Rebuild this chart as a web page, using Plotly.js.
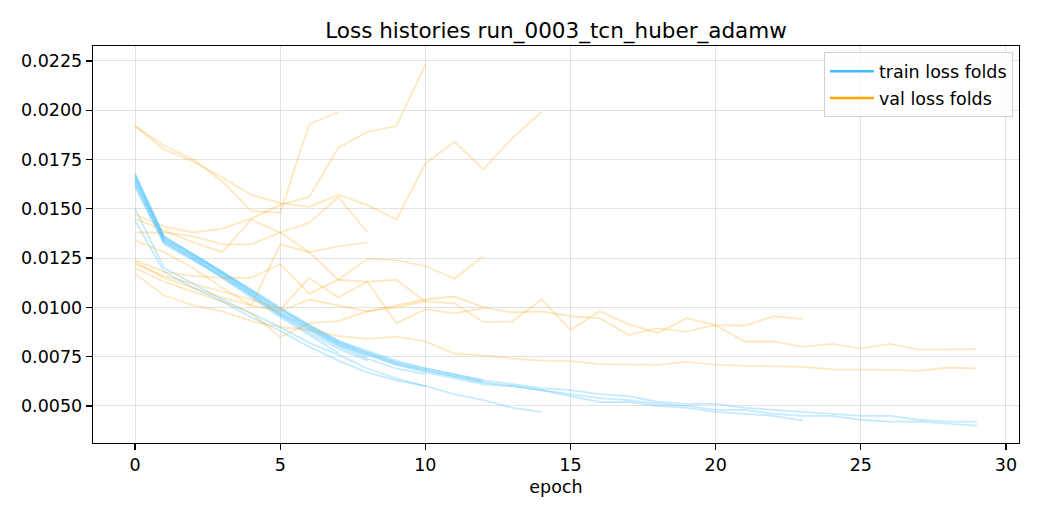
<!DOCTYPE html>
<html>
<head>
<meta charset="utf-8">
<script src="https://cdn.plot.ly/plotly-3.0.1.min.js"></script>
<style>
  html, body { margin: 0; padding: 0; background: #fff; }
  #chart { width: 1040px; height: 520px; }
</style>
</head>
<body>
<div id="chart"></div>
<script>
// loss per epoch, one pair of arrays per fold (runs stop early at different epochs)
var train_f1  = [0.0165, 0.0134, 0.0125, 0.0115, 0.0105, 0.0095, 0.0086, 0.0077];
var val_f1    = [0.0192, 0.0182, 0.0175, 0.0164, 0.0149, 0.0148, 0.0193, 0.0199];

var train_f2  = [0.0150, 0.0120, 0.0112, 0.0104, 0.0097, 0.0090, 0.0082, 0.0076, 0.0069, 0.0064, 0.0060, 0.0056, 0.0053, 0.0049, 0.0047];
var val_f2    = [0.0192, 0.0180, 0.0174, 0.0166, 0.0157, 0.0153, 0.0151, 0.0157, 0.0152, 0.01445, 0.0173, 0.0184, 0.0170, 0.0186, 0.0199];

var train_f3  = [0.0144, 0.0118, 0.0110, 0.0103, 0.0095, 0.0088, 0.0080, 0.0073, 0.0067, 0.0063, 0.0060];
var val_f3    = [0.0147, 0.0141, 0.0138, 0.0140, 0.0145, 0.0152, 0.0156, 0.0181, 0.0189, 0.0192, 0.0223];

var train_f4  = [0.0163, 0.0133, 0.0124, 0.0115, 0.0106, 0.0096, 0.0087, 0.0079, 0.0073];
var val_f4    = [0.0138, 0.0138, 0.0136, 0.0132, 0.0132, 0.0138, 0.0143, 0.0156, 0.0138];

var train_f5  = [0.0168, 0.0136, 0.0127, 0.0118, 0.0109, 0.0099, 0.0091, 0.0083, 0.0077, 0.0072, 0.0068, 0.0065, 0.0062];
var val_f5    = [0.0145, 0.0139, 0.0133, 0.0128, 0.01445, 0.0138, 0.0128, 0.0114, 0.01245, 0.0124, 0.0121, 0.01145, 0.0126];

var train_f6  = [0.0162, 0.0133, 0.0125, 0.0116, 0.0107, 0.0097, 0.0089, 0.0081, 0.0075];
var val_f6    = [0.0134, 0.0128, 0.0120, 0.0110, 0.0101, 0.0132, 0.0128, 0.0131, 0.0133];

var train_f7  = [0.0166, 0.0135, 0.0127, 0.0118, 0.0108, 0.0099, 0.0090, 0.0082, 0.0076, 0.0071, 0.0068, 0.0065, 0.0062, 0.0060, 0.0058,
                 0.0055, 0.0052, 0.0052, 0.0050, 0.0049, 0.0047, 0.0046, 0.0045, 0.00425];
var val_f7    = [0.0123, 0.0115, 0.0110, 0.0105, 0.0101, 0.0098, 0.0104, 0.0101, 0.0098, 0.0100, 0.0103, 0.0102, 0.00926, 0.00928, 0.0104,
                 0.00886, 0.0098, 0.00915, 0.0087, 0.00945, 0.0091, 0.00908, 0.00955, 0.0094];

var train_f8  = [0.0167, 0.0135, 0.0126, 0.0117, 0.0108, 0.0098, 0.0090, 0.0082, 0.0077, 0.0072, 0.0069, 0.0066, 0.0063, 0.0061, 0.0059,
                 0.0058, 0.0056, 0.0055, 0.0052, 0.0051, 0.0051, 0.0049, 0.0048, 0.0047, 0.0046, 0.0045, 0.0045, 0.0043, 0.0042, 0.0042];
var val_f8    = [0.0120, 0.0113, 0.0108, 0.0103, 0.0097, 0.0085, 0.0092, 0.0093, 0.0098, 0.0101, 0.0104, 0.01055, 0.0100, 0.00974, 0.0098,
                 0.00955, 0.00945, 0.00861, 0.00893, 0.00877, 0.0091, 0.00827, 0.00827, 0.0080, 0.00815, 0.00791, 0.00815, 0.00786, 0.00786, 0.00788];

var train_f9  = [0.0164, 0.0134, 0.0126, 0.0117, 0.0107, 0.0097, 0.0089, 0.0081, 0.0076, 0.0071, 0.0067, 0.0064, 0.0061, 0.0060, 0.0058,
                 0.0056, 0.0054, 0.0053, 0.0051, 0.0050, 0.0048, 0.0048, 0.0046, 0.0045, 0.0045, 0.0043, 0.0042, 0.0042, 0.0041, 0.0040];
var val_f9    = [0.0117, 0.0106, 0.0101, 0.0098, 0.0093, 0.0090, 0.00886, 0.00856, 0.0084, 0.00852, 0.00827, 0.00766, 0.00756, 0.0074, 0.0073,
                 0.00727, 0.00712, 0.0071, 0.00708, 0.00724, 0.0071, 0.00703, 0.00702, 0.00698, 0.00686, 0.00685, 0.00683, 0.00678, 0.00695, 0.0069];

var train_f10 = [0.0161, 0.0132, 0.0124, 0.0116, 0.0106, 0.0096, 0.0088, 0.0080, 0.0074, 0.0069, 0.0066];
var val_f10   = [0.0124, 0.0118, 0.0116, 0.0115, 0.0115, 0.0122, 0.0107, 0.0114, 0.0113, 0.0114, 0.0103];

var train_f11 = [0.0167, 0.0136, 0.0127, 0.0118, 0.0109, 0.0100, 0.0091, 0.0083, 0.0078, 0.0073, 0.0069, 0.0066, 0.0063];
var val_f11   = [0.0122, 0.0116, 0.0112, 0.0108, 0.0104, 0.0099, 0.0115, 0.0105, 0.0113, 0.0092, 0.0099, 0.0097, 0.00996];

var train_folds = [train_f1, train_f2, train_f3, train_f4, train_f5, train_f6, train_f7, train_f8, train_f9, train_f10, train_f11];
var val_folds   = [val_f1, val_f2, val_f3, val_f4, val_f5, val_f6, val_f7, val_f8, val_f9, val_f10, val_f11];

var x_ticks = [0, 5, 10, 15, 20, 25, 30];
var y_ticks = [0.0050, 0.0075, 0.0100, 0.0125, 0.0150, 0.0175, 0.0200, 0.0225];

var train_color = 'rgb(64,190,255)';
var val_color   = 'rgb(255,165,0)';

function epochs_of(arr) {
	var ep = [];
	for (var i = 0; i < arr.length; i++) { ep.push(i); }
	return ep;
}

var data = [];
for (var k = 0; k < train_folds.length; k++) {
	data.push({
		x: epochs_of(train_folds[k]), y: train_folds[k],
		type: 'scatter', mode: 'lines', showlegend: false, hoverinfo: 'skip',
		opacity: 0.3,
		line: { color: train_color, width: 1.8 }
	});
	data.push({
		x: epochs_of(val_folds[k]), y: val_folds[k],
		type: 'scatter', mode: 'lines', showlegend: false, hoverinfo: 'skip',
		opacity: 0.25,
		line: { color: val_color, width: 1.8 }
	});
}
// legend-only handles, drawn opaque like matplotlib's
data.push({ x: [null], y: [null], type: 'scatter', mode: 'lines', name: 'train loss folds',
	legendgroup: 'train', line: { color: train_color, width: 2.6 } });
data.push({ x: [null], y: [null], type: 'scatter', mode: 'lines', name: 'val loss folds',
	legendgroup: 'val', line: { color: val_color, width: 2.6 } });

var axis_common = {
	showline: true, mirror: true, linecolor: '#000', linewidth: 1.3,
	ticks: 'outside', ticklen: 6, tickwidth: 1.3, tickcolor: '#000',
	showgrid: true, gridcolor: 'rgba(0,0,0,0.11)', gridwidth: 1,
	zeroline: false,
	tickfont: { family: 'DejaVu Sans', size: 17.5, color: '#000' }
};

var layout = {
	width: 1040, height: 520,
	margin: { l: 93, r: 21, t: 46, b: 77 },
	paper_bgcolor: '#fff', plot_bgcolor: '#fff',
	font: { family: 'DejaVu Sans', color: '#000' },
	title: {
		text: 'Loss histories run_0003_tcn_huber_adamw',
		font: { family: 'DejaVu Sans', size: 21.5, color: '#000' },
		x: 0.5, xanchor: 'center', xref: 'paper',
		y: 1 - 30 / 520, yanchor: 'middle', yref: 'container'
	},
	xaxis: Object.assign({}, axis_common, {
		range: [-1.45, 30.45],
		tickvals: x_ticks,
		ticktext: x_ticks.map(String),
		title: { text: 'epoch', font: { family: 'DejaVu Sans', size: 17.5, color: '#000' }, standoff: 6 }
	}),
	yaxis: Object.assign({}, axis_common, {
		range: [0.00312, 0.02326],
		tickvals: y_ticks,
		ticktext: y_ticks.map(function(v) { return v.toFixed(4); })
	}),
	legend: {
		x: 0.9935, y: 0.984, xanchor: 'right', yanchor: 'top',
		bgcolor: 'rgba(255,255,255,0.8)', bordercolor: '#d0d0d0', borderwidth: 1,
		font: { family: 'DejaVu Sans', size: 17.5, color: '#000' },
		itemwidth: 44, tracegroupgap: 1
	}
};

Plotly.newPlot('chart', data, layout, { staticPlot: true, displayModeBar: false });
</script>
</body>
</html>
